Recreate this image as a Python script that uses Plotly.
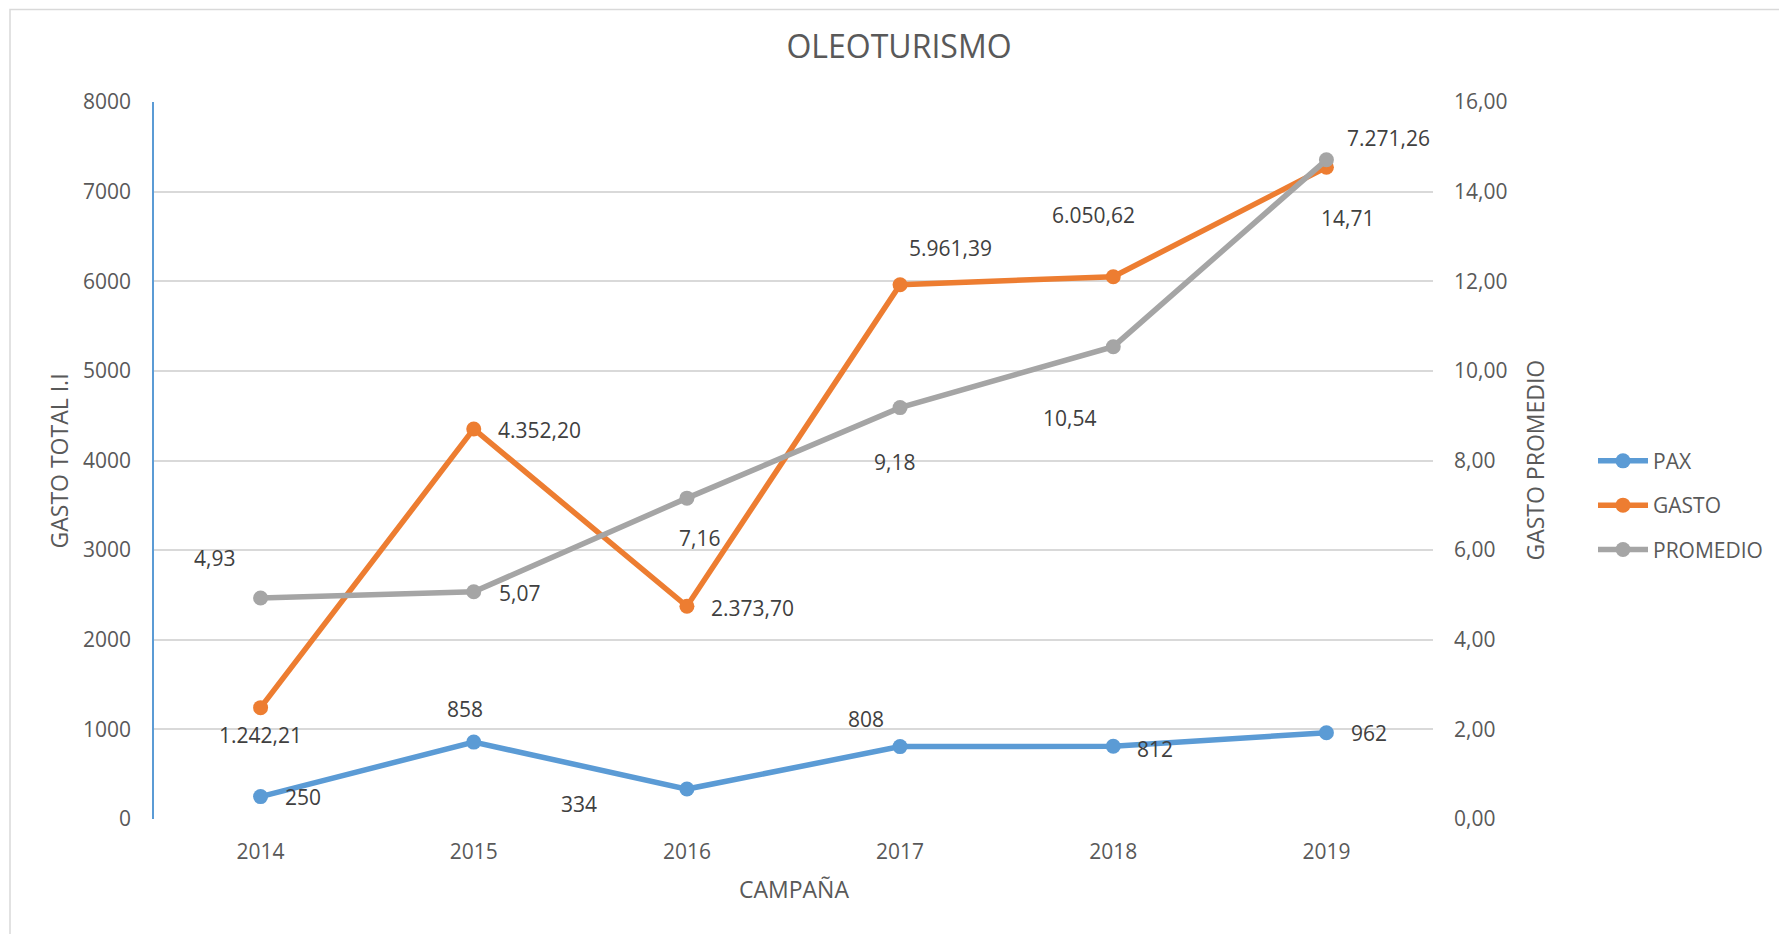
import plotly.graph_objects as go

# ---- data ----
years = ["2014", "2015", "2016", "2017", "2018", "2019"]
pax = [250, 858, 334, 808, 812, 962]
gasto = [1242.21, 4352.20, 2373.70, 5961.39, 6050.62, 7271.26]
promedio = [4.93, 5.07, 7.16, 9.18, 10.54, 14.71]

left_ticks = [0, 1000, 2000, 3000, 4000, 5000, 6000, 7000, 8000]
right_ticks = [0, 2, 4, 6, 8, 10, 12, 14, 16]

# ---- label placement styles (anchor, dx px, dy px down) ----
pax_pos = [("left", 22, 0), ("center", -9, -33), ("center", -108, 15),
           ("center", -34, -28), ("left", 22, 3), ("left", 23, 0)]
gasto_pos = [("center", 0, 27), ("left", 22, 1), ("left", 22, 2),
             ("center", 50, -37), ("center", -20, -62), ("left", 19, -29)]
prom_pos = [("center", -46, -40), ("left", 23, 1), ("center", 13, 40),
            ("center", -6, 54), ("center", -44, 71), ("center", 21, 58)]

BLUE = "#5B9BD5"
ORANGE = "#ED7D31"
GRAY = "#A5A5A5"
FONT = "Open Sans"
TICK_COLOR = "#595959"
LABEL_COLOR = "#404040"

W, H = 1779, 926
L, T = 146, 93.5
PW, PH = 1279, 717.5


def es_num(v, dec):
    s = f"{v:,.{dec}f}"
    return s.replace(",", "X").replace(".", ",").replace("X", ".")


fig = go.Figure()
fig.add_trace(go.Scatter(x=years, y=pax, name="PAX", mode="lines+markers",
                         line=dict(color=BLUE, width=5.5), marker=dict(size=15, color=BLUE),
                         yaxis="y", legendgroup="a"))
fig.add_trace(go.Scatter(x=years, y=gasto, name="GASTO", mode="lines+markers",
                         line=dict(color=ORANGE, width=5.5), marker=dict(size=15, color=ORANGE),
                         yaxis="y", legendgroup="b"))
fig.add_trace(go.Scatter(x=years, y=promedio, name="PROMEDIO", mode="lines+markers",
                         line=dict(color=GRAY, width=5.5), marker=dict(size=15, color=GRAY),
                         yaxis="y2", legendgroup="c"))

annotations = []


def add_labels(values, texts, positions, yref):
    for i, (v, t, (anc, dx, dy)) in enumerate(zip(values, texts, positions)):
        annotations.append(dict(x=i, y=v, xref="x", yref=yref, text=t, showarrow=False,
                                xanchor=anc, yanchor="middle", xshift=dx, yshift=-dy,
                                font=dict(family=FONT, size=21, color=LABEL_COLOR)))


add_labels(pax, [str(v) for v in pax], pax_pos, "y")
add_labels(gasto, [es_num(v, 2) for v in gasto], gasto_pos, "y")
add_labels(promedio, [es_num(v, 2) for v in promedio], prom_pos, "y2")

# axis titles
annotations.append(dict(x=-0.0743, y=0.5, xref="paper", yref="paper", text="GASTO TOTAL I.I",
                        textangle=-90, showarrow=False, xanchor="center", yanchor="middle",
                        font=dict(family=FONT, size=23, color=TICK_COLOR)))
annotations.append(dict(x=1.0790, y=0.5, xref="paper", yref="paper", text="GASTO PROMEDIO",
                        textangle=-90, showarrow=False, xanchor="center", yanchor="middle",
                        font=dict(family=FONT, size=23, color=TICK_COLOR)))
annotations.append(dict(x=0.5, y=-0.0976, xref="paper", yref="paper", text="CAMPAÑA",
                        showarrow=False, xanchor="center", yanchor="middle",
                        font=dict(family=FONT, size=23, color=TICK_COLOR)))

fig.update_layout(
    width=W, height=H,
    margin=dict(l=L, r=W - L - PW, t=T, b=H - T - PH),
    paper_bgcolor="white", plot_bgcolor="white",
    separators=",.",
    font=dict(family=FONT, size=21, color=TICK_COLOR),
    title=dict(text="OLEOTURISMO", x=891 / W, xref="container", xanchor="center",
               y=1 - 39 / H, yref="container", yanchor="middle",
               font=dict(family=FONT, size=32, color=TICK_COLOR)),
    xaxis=dict(type="category", range=[-0.5, 5.5], showgrid=False, showline=False,
               zeroline=False, ticks="", ticklabelstandoff=18,
               tickfont=dict(family=FONT, size=21, color=TICK_COLOR)),
    yaxis=dict(range=[0, 8000], tickvals=left_ticks, tickformat="d",
               showgrid=True, gridcolor="#D9D9D9", gridwidth=1.5,
               zeroline=False, showline=True, linecolor=BLUE, linewidth=1.5,
               ticks="", ticklabelstandoff=17,
               tickfont=dict(family=FONT, size=21, color=TICK_COLOR)),
    yaxis2=dict(range=[0, 16], tickvals=right_ticks, tickformat=".2f", overlaying="y",
                side="right", showgrid=False, zeroline=False, showline=False,
                ticks="", ticklabelstandoff=20,
                tickfont=dict(family=FONT, size=21, color=TICK_COLOR)),
    legend=dict(x=(1585 - L) / PW, y=(811 - 497) / PH, xanchor="left", yanchor="middle",
                xref="paper", yref="paper", tracegroupgap=14, itemwidth=50,
                font=dict(family=FONT, size=21, color=TICK_COLOR),
                bgcolor="rgba(0,0,0,0)"),
    annotations=annotations,
    shapes=[dict(type="rect", xref="paper", yref="paper",
                 x0=(2 - L) / PW, x1=1.3, y0=-0.3, y1=(811 - 1) / PH,
                 line=dict(color="#D9D9D9", width=1.5), fillcolor="rgba(0,0,0,0)", layer="below")],
)

fig.write_html("out.html")
